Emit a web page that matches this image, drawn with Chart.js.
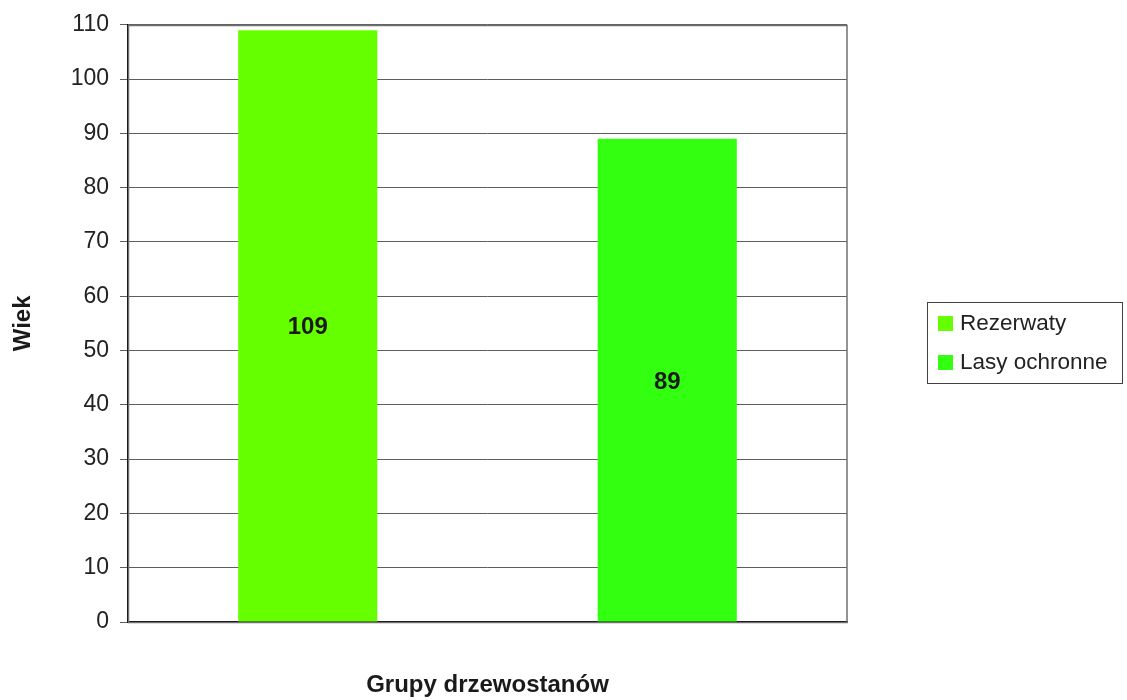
<!DOCTYPE html>
<html lang="pl">
<head>
<meta charset="utf-8">
<title>Wiek drzewostanów</title>
<script src="https://cdn.jsdelivr.net/npm/chart.js@4.4.1/dist/chart.umd.min.js"></script>
<style>
  html, body { margin: 0; padding: 0; background: #ffffff; }
  #wrap { position: relative; width: 1127px; height: 700px; }
</style>
</head>
<body>
<div id="wrap"><canvas id="chart"></canvas></div>
<script>
// Średni wiek drzewostanów w grupach
const categories = ['Rezerwaty', 'Lasy ochronne'];
const seriesNames = ['Rezerwaty', 'Lasy ochronne'];
const rezerwaty = [109, null];
const lasyOchronne = [null, 89];
const seriesColors = ['#66ff00', '#33ff11'];
const yTicks = [0, 10, 20, 30, 40, 50, 60, 70, 80, 90, 100, 110];
const yTitle = 'Wiek';
const xTitle = 'Grupy drzewostanów';

const FONT = '"Liberation Sans", Arial, Helvetica, sans-serif';

// Gray frame of the plot area, drawn behind the bars
const plotFrame = {
  id: 'plotFrame',
  beforeDatasetsDraw(chart) {
    const { ctx, chartArea: a } = chart;
    ctx.save();
    ctx.strokeStyle = '#707070';
    ctx.lineWidth = 1.5;
    ctx.strokeRect(Math.round(a.left) + 0.5, Math.round(a.top) + 0.5,
                   Math.round(a.right - a.left) - 0.5, Math.round(a.bottom - a.top));
    ctx.restore();
  }
};

// Values written in the middle of each bar
const barValues = {
  id: 'barValues',
  afterDatasetsDraw(chart) {
    const { ctx } = chart;
    ctx.save();
    ctx.font = 'bold 24px ' + FONT;
    ctx.fillStyle = '#1a1a1a';
    ctx.textAlign = 'center';
    ctx.textBaseline = 'middle';
    chart.data.datasets.forEach((ds, di) => {
      const meta = chart.getDatasetMeta(di);
      meta.data.forEach((bar, i) => {
        const v = ds.data[i];
        if (v === null || v === undefined) return;
        const p = bar.getProps(['x', 'y', 'base'], true);
        ctx.fillText(String(v), p.x, (p.y + p.base) / 2 + 2);
      });
    });
    ctx.restore();
  }
};

// Boxed legend to the right of the plot
const boxLegend = {
  id: 'boxLegend',
  afterDraw(chart) {
    const { ctx } = chart;
    const x = 927, y = 302, w = 195, h = 81;
    ctx.save();
    ctx.fillStyle = '#ffffff';
    ctx.fillRect(x, y, w, h);
    ctx.strokeStyle = '#404040';
    ctx.lineWidth = 1;
    ctx.strokeRect(x + 0.5, y + 0.5, w, h);
    ctx.font = '22.5px ' + FONT;
    ctx.textBaseline = 'middle';
    ctx.textAlign = 'left';
    chart.data.datasets.forEach((ds, i) => {
      const cy = y + 21 + i * 39;
      ctx.fillStyle = ds.backgroundColor;
      ctx.fillRect(x + 11, cy - 7, 15, 15);
      ctx.fillStyle = '#222222';
      ctx.fillText(ds.label, x + 33, cy + 1);
    });
    ctx.restore();
  }
};

new Chart(document.getElementById('chart'), {
  type: 'bar',
  data: {
    labels: categories,
    datasets: [
      { label: seriesNames[0], data: rezerwaty, backgroundColor: seriesColors[0] },
      { label: seriesNames[1], data: lasyOchronne, backgroundColor: seriesColors[1] }
    ]
  },
  options: {
    responsive: true,
    maintainAspectRatio: false,
    animation: false,
    skipNull: true,
    categoryPercentage: 1,
    barPercentage: 0.387,
    layout: { padding: { top: 24, right: 280, bottom: 0, left: 0 } },
    plugins: {
      legend: { display: false },
      tooltip: { enabled: false }
    },
    scales: {
      x: {
        stacked: false,
        grid: { display: false },
        border: { display: true, color: '#000000', width: 1.5 },
        ticks: { display: false },
        title: {
          display: true,
          text: xTitle,
          color: '#1a1a1a',
          font: { family: FONT, size: 24, weight: 'bold' },
          padding: { top: 0, bottom: 0 }
        },
        afterFit(scale) { scale.height = 78; }
      },
      y: {
        min: 0,
        max: 110,
        afterBuildTicks(scale) { scale.ticks = yTicks.map(v => ({ value: v })); },
        grid: { color: '#5e5e5e', lineWidth: 1, tickLength: 8, drawTicks: true },
        border: { display: true, color: '#000000', width: 1.5 },
        ticks: {
          color: '#222222',
          padding: 11,
          font: { family: FONT, size: 23 }
        },
        title: {
          display: true,
          text: yTitle,
          color: '#1a1a1a',
          font: { family: FONT, size: 24, weight: 'bold' },
          padding: { top: 9, bottom: 0 }
        },
        afterFit(scale) { scale.width = 128; }
      }
    }
  },
  plugins: [plotFrame, barValues, boxLegend]
});
</script>
</body>
</html>
